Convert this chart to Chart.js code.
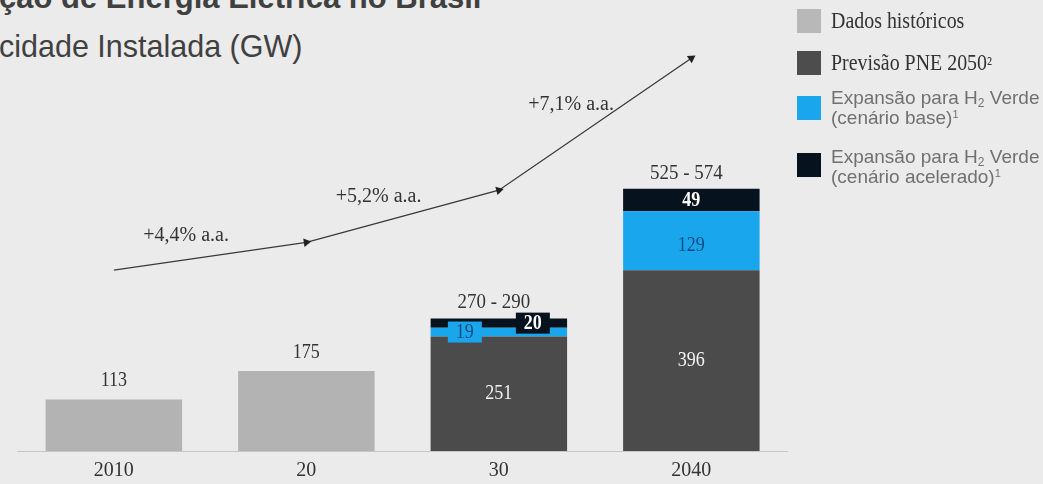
<!DOCTYPE html>
<html>
<head>
<meta charset="utf-8">
<script src="https://cdn.jsdelivr.net/npm/chart.js@4.4.1/dist/chart.umd.min.js"></script>
<style>
  html, body { margin: 0; padding: 0; background: #ebebeb; }
  #wrap { position: relative; width: 1043px; height: 484px; overflow: hidden; background: #ebebeb; }
  #chart { position: absolute; left: 0; top: 0; }
  .title { position: absolute; left: -1px; white-space: nowrap; color: #404040;
           font-family: "Liberation Sans", Arial, sans-serif; font-size: 30.5px; line-height: 30px; }
  .t1 { top: -17px; font-weight: bold; font-size: 31px; }
  .t2 { top: 31px; }
  .sw { position: absolute; left: 797px; width: 24px; height: 24px; }
  .lt { position: absolute; left: 831px; white-space: nowrap; }
  .serif { font-family: "Liberation Serif", "Times New Roman", serif; font-size: 24px; line-height: 24px;
           color: #333; transform: scaleX(0.83); transform-origin: left center; }
  .serif .sm { font-size: 20px; }
  .sans { font-family: "Liberation Sans", Arial, sans-serif; font-size: 19px; line-height: 20px; color: #707070; }
  .sans sub { font-size: 12px; vertical-align: -3px; line-height: 0; }
  .sans sup { font-size: 11px; vertical-align: 6px; line-height: 0; }
</style>
</head>
<body>
<div id="wrap">
  <div class="title t1">ção de Energia Elétrica no Brasil</div>
  <div class="title t2">cidade Instalada (GW)</div>
  <canvas id="chart" width="1043" height="484"></canvas>
  <div id="legend"></div>
</div>
<script>
const years = ["2010", "20", "30", "2040"];
const historico = [113, 175, null, null];
const previsaoPNE = [null, null, 251, 396];
const expansaoBase = [null, null, 19, 129];
const expansaoAcelerada = [null, null, 20, 49];
const faixaTotal = ["", "", "270 - 290", "525 - 574"];
const tendencia = [396, 457, 571, 860];
const crescimento = ["+4,4% a.a.", "+5,2% a.a.", "+7,1% a.a."];

const cinzaClaro = "#b3b3b3";
const cinzaEscuro = "#4b4b4b";
const azul = "#19a6ec";
const marinho = "#07121f";

// legend (html, mixes serif and sans like the original)
const legendItems = [
  { color: "#b8b8b8", top: 9, cls: "serif", lines: ["Dados históricos"], textTop: [8] },
  { color: "#4d4d4d", top: 51, cls: "serif", lines: ["Previsão PNE 2050<span class=\"sm\">²</span>"], textTop: [50] },
  { color: azul, top: 96, cls: "sans", lines: ["Expansão para H<sub>2</sub> Verde", "(cenário base)<sup>1</sup>"], textTop: [88, 108] },
  { color: marinho, top: 153, cls: "sans", lines: ["Expansão para H<sub>2</sub> Verde", "(cenário acelerado)<sup>1</sup>"], textTop: [147, 167] },
];
const legendEl = document.getElementById("legend");
legendItems.forEach((item) => {
  const sw = document.createElement("div");
  sw.className = "sw";
  sw.style.top = item.top + "px";
  sw.style.background = item.color;
  legendEl.appendChild(sw);
  item.lines.forEach((line, k) => {
    const t = document.createElement("div");
    t.className = "lt " + item.cls;
    t.style.top = item.textTop[k] + "px";
    t.innerHTML = line;
    legendEl.appendChild(t);
  });
});

function drawText(ctx, text, x, y, size, color, sx, bold) {
  ctx.save();
  ctx.translate(x, y);
  ctx.scale(sx, 1);
  ctx.font = (bold ? "bold " : "") + size + 'px "Liberation Serif", "Times New Roman", serif';
  ctx.fillStyle = color;
  ctx.textAlign = "center";
  ctx.textBaseline = "middle";
  ctx.fillText(text, 0, 0);
  ctx.restore();
}

const barLabels = {
  id: "barLabels",
  afterDatasetsDraw(chart) {
    const ctx = chart.ctx;
    for (let d = 0; d < 4; d++) {
      const meta = chart.getDatasetMeta(d);
      const data = chart.data.datasets[d].data;
      meta.data.forEach((el, i) => {
        const v = data[i];
        if (v == null) return;
        const h = el.base - el.y;
        const cy = el.y + h / 2;
        if (d === 0) {
          drawText(ctx, String(v), el.x, el.y - 19, 22, "#333", 0.82);
        } else if (d === 1) {
          drawText(ctx, String(v), el.x, cy, 22, "#f4f4f4", 0.82);
        } else if (h < 15) {
          // thin segment: label sits in a small box of the same colour
          const bx = el.x + (d === 2 ? -34 : 34);
          ctx.fillStyle = d === 2 ? azul : marinho;
          ctx.fillRect(bx - 17, cy - 10.5, 34, 21);
          drawText(ctx, String(v), bx, cy, 22, d === 2 ? "#0f4c81" : "#fff", 0.82, d === 3);
        } else {
          drawText(ctx, String(v), el.x, cy + (d === 2 ? 5 : 0), 22, d === 2 ? "#0f4c81" : "#fff", 0.82, d === 3);
        }
      });
    }
    const topMeta = chart.getDatasetMeta(3);
    faixaTotal.forEach((txt, i) => {
      if (!txt) return;
      const el = topMeta.data[i];
      drawText(ctx, txt, el.x - 5, el.y - 16, 22, "#333", 0.86);
    });
    const line = chart.getDatasetMeta(4).data;
    crescimento.forEach((txt, i) => {
      const a = line[i], b = line[i + 1];
      drawText(ctx, txt, (a.x + b.x) / 2 - 24, (a.y + b.y) / 2 - 20, 20, "#333", 1);
    });
  },
};

function arrowRotation(c) {
  const i = c.dataIndex;
  if (i === 0) return 0;
  const xs = c.chart.scales.x, ys = c.chart.scales.y;
  const dx = xs.getPixelForValue(i) - xs.getPixelForValue(i - 1);
  const dy = ys.getPixelForValue(tendencia[i]) - ys.getPixelForValue(tendencia[i - 1]);
  return Math.atan2(dy, dx) * 180 / Math.PI + 90;
}

const ctxChart = document.getElementById("chart").getContext("2d");
new Chart(ctxChart, {
  type: "bar",
  data: {
    labels: years,
    datasets: [
      { label: "Dados históricos", data: historico, backgroundColor: cinzaClaro, stack: "cap" },
      { label: "Previsão PNE 2050", data: previsaoPNE, backgroundColor: cinzaEscuro, stack: "cap" },
      { label: "Expansão base", data: expansaoBase, backgroundColor: azul, stack: "cap" },
      { label: "Expansão acelerada", data: expansaoAcelerada, backgroundColor: marinho, stack: "cap" },
      {
        type: "line",
        label: "Tendência",
        data: tendencia,
        stack: "trend",
        borderColor: "#3a3a3a",
        borderWidth: 1.3,
        tension: 0,
        fill: false,
        clip: false,
        pointStyle: "triangle",
        pointRadius: [0, 5, 5, 5],
        pointBackgroundColor: "#222",
        pointBorderColor: "#222",
        pointBorderWidth: 0,
        pointRotation: arrowRotation,
      },
    ],
  },
  options: {
    responsive: false,
    animation: false,
    events: [],
    barPercentage: 0.709,
    categoryPercentage: 1,
    layout: { padding: { top: 40, bottom: 0, left: 17.6, right: 255.4 } },
    scales: {
      x: {
        stacked: true,
        grid: { display: false, drawTicks: false },
        border: { display: true, color: "#c6c6c6", width: 1 },
        ticks: {
          padding: 8,
          color: "#333",
          font: { family: '"Liberation Serif", "Times New Roman", serif', size: 20 },
        },
        afterFit(scale) { scale.height = 33; },
      },
      y: {
        stacked: true,
        display: false,
        min: 0,
        max: 900,
      },
    },
    plugins: {
      legend: { display: false },
      tooltip: { enabled: false },
    },
  },
  plugins: [barLabels],
});
</script>
</body>
</html>
